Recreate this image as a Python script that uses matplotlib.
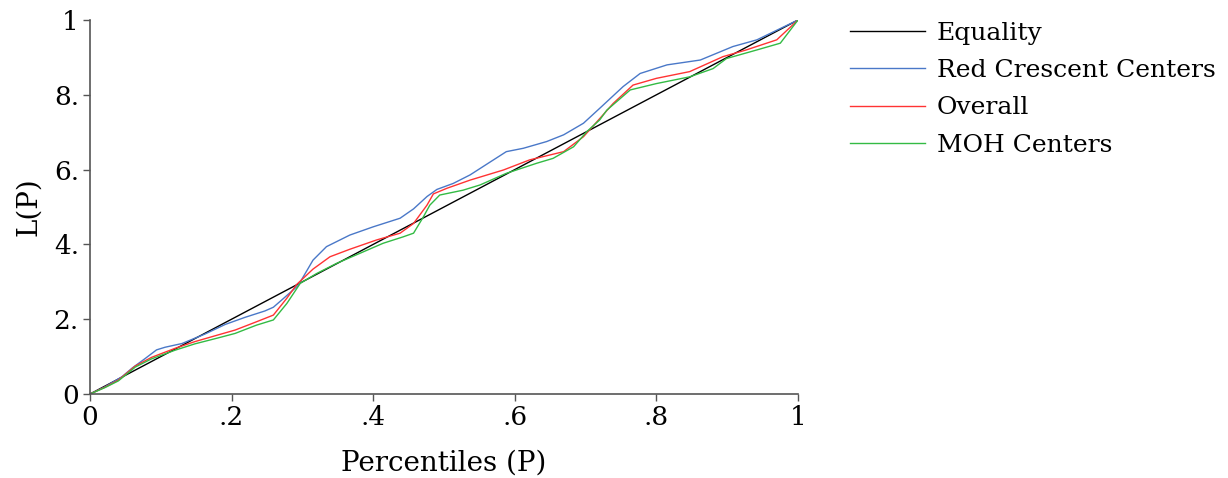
import matplotlib
matplotlib.use('Agg')
import matplotlib.pyplot as plt

# Lorenz curves
equality_x = [0, 1]
equality_y = [0, 1]

red_crescent_x = [0, 0.02, 0.045, 0.06, 0.078, 0.094, 0.106, 0.13, 0.162, 0.191, 0.219, 0.247,
                  0.259, 0.273, 0.294, 0.315, 0.334, 0.367, 0.4, 0.438, 0.457, 0.476, 0.49,
                  0.513, 0.537, 0.56, 0.588, 0.612, 0.645, 0.669, 0.697, 0.72, 0.753, 0.777,
                  0.815, 0.862, 0.908, 0.942, 1]
red_crescent_y = [0, 0.018, 0.046, 0.07, 0.095, 0.118, 0.125, 0.135, 0.16, 0.186, 0.205, 0.222,
                  0.232, 0.255, 0.29, 0.358, 0.394, 0.425, 0.447, 0.47, 0.495, 0.528, 0.547,
                  0.563, 0.586, 0.614, 0.648, 0.657, 0.675, 0.693, 0.724, 0.764, 0.822, 0.857,
                  0.88, 0.893, 0.929, 0.947, 1]

overall_x = [0, 0.021, 0.04, 0.064, 0.087, 0.12, 0.148, 0.181, 0.205, 0.235, 0.259, 0.278,
             0.292, 0.315, 0.339, 0.367, 0.405, 0.438, 0.457, 0.476, 0.485, 0.504, 0.537,
             0.584, 0.621, 0.669, 0.697, 0.716, 0.739, 0.767, 0.8, 0.847, 0.894, 0.927,
             0.97, 1]
overall_y = [0, 0.018, 0.037, 0.075, 0.098, 0.122, 0.14, 0.158, 0.171, 0.193, 0.211, 0.256,
             0.293, 0.334, 0.367, 0.387, 0.412, 0.43, 0.456, 0.505, 0.535, 0.55, 0.572,
             0.599, 0.626, 0.648, 0.688, 0.728, 0.777, 0.826, 0.844, 0.862, 0.902, 0.92,
             0.947, 1]

moh_x = [0, 0.021, 0.04, 0.064, 0.087, 0.12, 0.148, 0.181, 0.205, 0.235, 0.259, 0.278,
         0.297, 0.32, 0.348, 0.381, 0.414, 0.442, 0.457, 0.471, 0.48, 0.494, 0.527, 0.551,
         0.588, 0.631, 0.654, 0.683, 0.702, 0.72, 0.73, 0.763, 0.8, 0.847, 0.88, 0.899,
         0.942, 0.975, 1]
moh_y = [0, 0.017, 0.035, 0.072, 0.094, 0.117, 0.134, 0.15, 0.162, 0.184, 0.198, 0.242,
         0.296, 0.322, 0.349, 0.376, 0.403, 0.42, 0.43, 0.474, 0.505, 0.532, 0.545, 0.559,
         0.59, 0.617, 0.63, 0.661, 0.702, 0.733, 0.759, 0.813, 0.83, 0.848, 0.87, 0.897,
         0.92, 0.938, 1]

x_ticks = [0, 0.2, 0.4, 0.6, 0.8, 1]
x_tick_labels = ['0', '.2', '.4', '.6', '.8', '1']
y_ticks = [0, 0.2, 0.4, 0.6, 0.8, 1]
y_tick_labels = ['0', '2.', '4.', '6.', '8.', '1']

plt.rcParams['font.family'] = ['DejaVu Serif']

fig = plt.figure(figsize=(12.28, 4.78), dpi=100)
ax = fig.add_axes([90 / 1228, 84 / 478, 708 / 1228, 374 / 478])

ax.plot(equality_x, equality_y, color='black', lw=1.0, label='Equality')
ax.plot(red_crescent_x, red_crescent_y, color='#4a78c8', lw=1.0, label='Red Crescent Centers')
ax.plot(overall_x, overall_y, color='#ff3333', lw=1.0, label='Overall')
ax.plot(moh_x, moh_y, color='#33bb44', lw=1.0, label='MOH Centers')

ax.set_xlim(0, 1)
ax.set_ylim(0, 1)
ax.set_xticks(x_ticks)
ax.set_xticklabels(x_tick_labels)
ax.set_yticks(y_ticks)
ax.set_yticklabels(y_tick_labels)
ax.tick_params(direction='out', length=5, width=1, color='#555555', labelsize=19, pad=3)

for side in ['top', 'right']:
    ax.spines[side].set_visible(False)
for side in ['left', 'bottom']:
    ax.spines[side].set_color('#555555')
    ax.spines[side].set_linewidth(1.2)

ax.set_xlabel('Percentiles (P)', fontsize=20, labelpad=14)
ax.set_ylabel('L(P)', fontsize=20, labelpad=8)

ax.legend(loc='upper left', bbox_to_anchor=(1.06, 1.022), frameon=False, fontsize=18,
          handlelength=3.0, handletextpad=0.45, labelspacing=0.57, borderaxespad=0)

fig.savefig('out.png', dpi=100, facecolor='white')
